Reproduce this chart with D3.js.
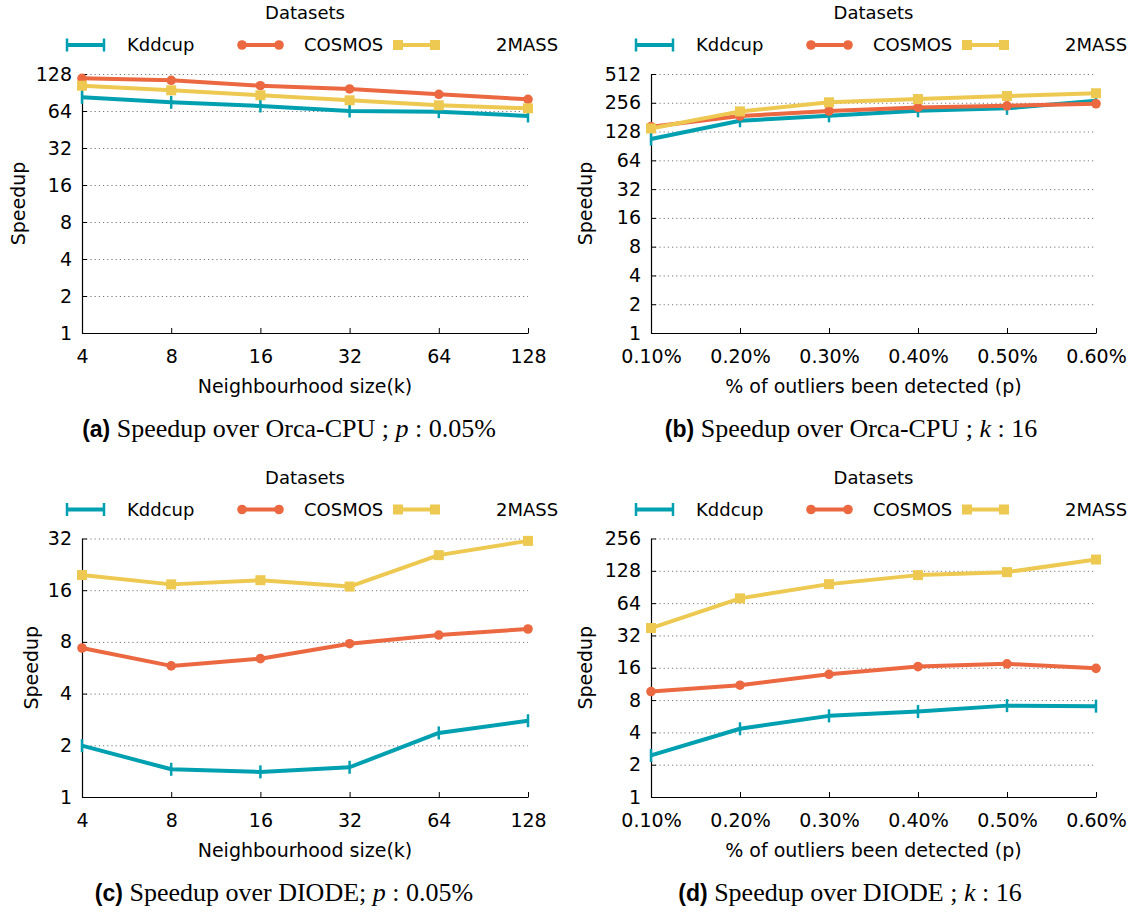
<!DOCTYPE html>
<html>
<head>
<meta charset="utf-8">
<script src="https://cdn.jsdelivr.net/npm/d3@7"></script>
<style>
    html, body { margin: 0; padding: 0; background: #fff; }
    svg { display: block; font-family: 'DejaVu Sans', sans-serif; }
</style>
</head>
<body>
<div id="chart"></div>
<script>
// ===========================
// Speedup panels (a)-(d)
// log2 line charts, gnuplot style
// ===========================

const seriesNames = ['Kddcup', 'COSMOS', '2MASS'];
const seriesColors = ['#00A0B0', '#EB6841', '#EDC951'];

const kLabels = ['4', '8', '16', '32', '64', '128'];
const pLabels = ['0.10%', '0.20%', '0.30%', '0.40%', '0.50%', '0.60%'];

const ticksA = [1, 2, 4, 8, 16, 32, 64, 128];
const ticksB = [1, 2, 4, 8, 16, 32, 64, 128, 256, 512];
const ticksC = [1, 2, 4, 8, 16, 32];
const ticksD = [1, 2, 4, 8, 16, 32, 64, 128, 256];

// (a) Orca-CPU, varying k
const orcaKKddcup = [82.7, 75.3, 70.3, 64, 63.2, 58.3];
const orcaKCosmos = [118, 113.8, 102.8, 96.7, 87.5, 79.7];
const orcaK2mass = [102.8, 94.3, 85.9, 78.2, 71.2, 67.3];

// (b) Orca-CPU, varying p
const orcaPKddcup = [107, 166, 187, 211, 224, 269];
const orcaPCosmos = [144, 186, 210, 229, 238, 250];
const orcaP2mass = [138, 208, 259, 280, 301, 322];

// (c) DIODE, varying k
const diodeKKddcup = [1.99, 1.45, 1.40, 1.49, 2.36, 2.78];
const diodeKCosmos = [7.37, 5.8, 6.39, 7.81, 8.77, 9.51];
const diodeK2mass = [19.6, 17.3, 18.3, 16.8, 25.6, 31];

// (d) DIODE, varying p
const diodePKddcup = [2.44, 4.32, 5.7, 6.25, 7.1, 7.02];
const diodePCosmos = [9.6, 11.0, 13.9, 16.4, 17.4, 15.8];
const diodeP2mass = [37.5, 70.9, 96.2, 116.7, 124.4, 163];

const width = 1135;
const height = 912;

const svg = d3.select('#chart')
    .append('svg')
    .attr('width', width)
    .attr('height', height);

const panels = [
    {
        left: 82, right: 528, top: 74, bottom: 333,
        cats: kLabels, ticks: ticksA,
        series: [orcaKKddcup, orcaKCosmos, orcaK2mass],
        xTitle: 'Neighbourhood size(k)', yTitleX: 18,
        tag: '(a)', cap: ' Speedup over Orca-CPU ; ', capVar: 'p', capEnd: ' : 0.05%', capX: 289
    },
    {
        left: 651, right: 1096, top: 74, bottom: 333,
        cats: pLabels, ticks: ticksB,
        series: [orcaPKddcup, orcaPCosmos, orcaP2mass],
        xTitle: '% of outliers been detected (p)', yTitleX: 585,
        tag: '(b)', cap: ' Speedup over Orca-CPU ; ', capVar: 'k', capEnd: ' : 16', capX: 851
    },
    {
        left: 82, right: 528, top: 538.5, bottom: 797,
        cats: kLabels, ticks: ticksC,
        series: [diodeKKddcup, diodeKCosmos, diodeK2mass],
        xTitle: 'Neighbourhood size(k)', yTitleX: 31,
        tag: '(c)', cap: ' Speedup over DIODE; ', capVar: 'p', capEnd: ' : 0.05%', capX: 284
    },
    {
        left: 651, right: 1096, top: 538.5, bottom: 797,
        cats: pLabels, ticks: ticksD,
        series: [diodePKddcup, diodePCosmos, diodeP2mass],
        xTitle: '% of outliers been detected (p)', yTitleX: 585,
        tag: '(d)', cap: ' Speedup over DIODE ; ', capVar: 'k', capEnd: ' : 16', capX: 850
    }
];

function drawMarker(g, i, x, y) {
    const color = seriesColors[i];
    if (i === 0) {
        g.append('line')
            .attr('x1', x).attr('x2', x)
            .attr('y1', y - 6.5).attr('y2', y + 6.5)
            .attr('stroke', color)
            .attr('stroke-width', 2.5);
    } else if (i === 1) {
        g.append('circle')
            .attr('cx', x).attr('cy', y)
            .attr('r', 4.8)
            .attr('fill', color);
    } else {
        g.append('rect')
            .attr('x', x - 5).attr('y', y - 5)
            .attr('width', 10).attr('height', 10)
            .attr('fill', color);
    }
}

panels.forEach(p => {
    const g = svg.append('g');

    const xScale = d3.scalePoint()
        .domain(p.cats)
        .range([p.left, p.right]);

    const yScale = d3.scaleLog()
        .base(2)
        .domain([1, d3.max(p.ticks)])
        .range([p.bottom, p.top]);

    // dotted grid
    g.append('g')
        .attr('transform', `translate(${p.left},0)`)
        .call(d3.axisLeft(yScale).tickValues(p.ticks.slice(1)).tickSize(-(p.right - p.left)).tickFormat(''))
        .call(ax => ax.select('.domain').remove())
        .selectAll('line')
        .attr('stroke', '#777')
        .attr('stroke-width', 1)
        .attr('stroke-dasharray', '1.2,3');

    // y axis
    const yAxis = g.append('g')
        .attr('transform', `translate(${p.left},0)`)
        .call(d3.axisLeft(yScale).tickValues(p.ticks).tickFormat(d3.format('d')).tickSize(0).tickPadding(10));
    yAxis.select('.domain').attr('stroke', '#000').attr('stroke-width', 1.2);
    yAxis.selectAll('text')
        .attr('fill', '#000')
        .style('font-size', '19px')
        .style('font-family', 'DejaVu Sans, sans-serif');
    yAxis.selectAll('.tick')
        .append('line')
        .attr('x2', 5)
        .attr('stroke', '#000');

    // x axis
    const xAxis = g.append('g')
        .attr('transform', `translate(0,${p.bottom})`)
        .call(d3.axisBottom(xScale).tickSize(-5).tickSizeOuter(0).tickPadding(12));
    xAxis.select('.domain').attr('stroke', '#000').attr('stroke-width', 1.2);
    xAxis.selectAll('line').attr('stroke', '#000');
    xAxis.selectAll('text')
        .attr('fill', '#000')
        .attr('dy', '0.95em')
        .style('font-size', '19px')
        .style('font-family', 'DejaVu Sans, sans-serif');

    // axis titles
    g.append('text')
        .attr('x', (p.left + p.right) / 2)
        .attr('y', p.bottom + 60)
        .attr('text-anchor', 'middle')
        .style('font-size', '19px')
        .text(p.xTitle);

    g.append('text')
        .attr('transform', `translate(${p.yTitleX},${(p.top + p.bottom) / 2}) rotate(-90)`)
        .attr('text-anchor', 'middle')
        .attr('dy', '0.35em')
        .style('font-size', '19px')
        .text('Speedup');

    // series lines + markers
    const line = d3.line()
        .x((d, i) => xScale(p.cats[i]))
        .y(d => yScale(d));

    p.series.forEach((values, si) => {
        g.append('path')
            .datum(values)
            .attr('fill', 'none')
            .attr('stroke', seriesColors[si])
            .attr('stroke-width', 4)
            .attr('stroke-linejoin', 'round')
            .attr('d', line);
    });
    p.series.forEach((values, si) => {
        values.forEach((v, i) => drawMarker(g, si, xScale(p.cats[i]), yScale(v)));
    });

    // legend
    const legend = g.append('g')
        .attr('transform', `translate(${p.left},${p.top - 29})`);

    legend.append('text')
        .attr('x', (p.right - p.left) / 2)
        .attr('y', -32)
        .attr('text-anchor', 'middle')
        .attr('dy', '0.35em')
        .style('font-size', '18px')
        .text('Datasets');

    const sampleX = [-15, 160, 316];
    const labelX = [45, 222, 414];
    seriesNames.forEach((name, si) => {
        const x0 = sampleX[si];
        const x1 = x0 + 37;
        legend.append('line')
            .attr('x1', x0).attr('x2', x1)
            .attr('stroke', seriesColors[si])
            .attr('stroke-width', 4);
        drawMarker(legend, si, x0, 0);
        drawMarker(legend, si, x1, 0);
        legend.append('text')
            .attr('x', labelX[si])
            .attr('dy', '0.35em')
            .style('font-size', '18px')
            .text(name);
    });

    // caption
    const cap = svg.append('text')
        .attr('x', p.capX)
        .attr('y', p.bottom + 104)
        .attr('text-anchor', 'middle')
        .style('font-size', '26px')
        .style('font-family', 'Liberation Serif, serif');
    cap.append('tspan')
        .style('font-family', 'Liberation Sans, sans-serif')
        .style('font-weight', 'bold')
        .style('font-size', '23px')
        .text(p.tag);
    cap.append('tspan').text(p.cap);
    cap.append('tspan').style('font-style', 'italic').text(p.capVar);
    cap.append('tspan').text(p.capEnd);
});
</script>
</body>
</html>
